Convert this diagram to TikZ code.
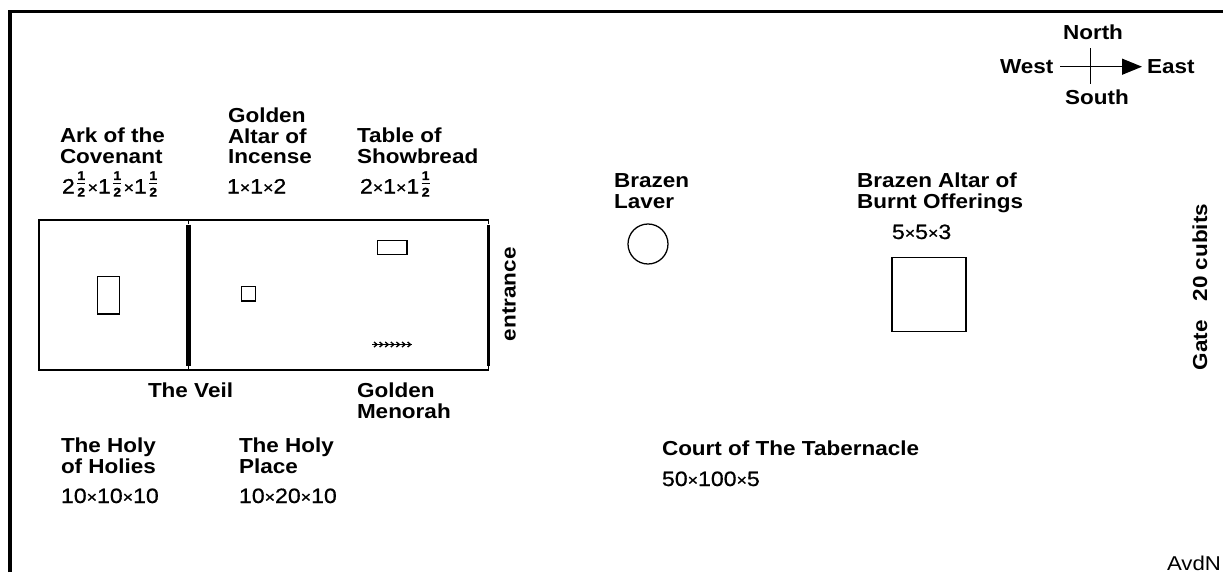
\documentclass[tikz,border=0pt]{standalone}
\usepackage{fontspec}
\setmainfont[FakeStretch=1.11]{Liberation Sans}
\usetikzlibrary{arrows.meta}
\newcommand{\hf}{\raisebox{-2.3pt}{\vbox{\offinterlineskip\fontsize{9.5}{9.5}\selectfont\bfseries\hbox to 9.6pt{\hss 1\hss}\kern2.6pt\hbox to 9.6pt{\hss\vrule width 6pt height .6pt\hss}\kern2.6pt\hbox to 9.6pt{\hss 2\hss}}}}
\newcommand{\tm}{{\fontsize{12}{12}\selectfont\raisebox{0.3pt}{×}}}
\tikzset{
  lab/.style={anchor=base west,inner sep=0pt,outer sep=0pt,font=\fontsize{15.2}{15.2}\selectfont\bfseries},
  dim/.style={anchor=base west,inner sep=0pt,outer sep=0pt,font=\fontsize{15.6}{15.6}\selectfont\addfontfeature{FakeBold=0.7}},
  sig/.style={anchor=base west,inner sep=0pt,outer sep=0pt,font=\fontsize{15}{15}\selectfont},
  frameline/.style={line width=2.7pt,line cap=butt},
  thin line/.style={line width=0.95pt},
  item/.style={draw,line width=0.95pt,fill=none},
}
\begin{document}
\begin{tikzpicture}[x=0.75pt,y=-0.75pt]
\useasboundingbox[fill=white] (0,0) rectangle (1223,572);
% outer frame
\draw[frameline] (10,572) -- (10,11.5) -- (1223,11.5);
% tabernacle
\draw[thin line] (188.5,224) -- (188.5,220) -- (39,220) -- (39,370) -- (188.5,370) -- (188.5,366);
\draw[thin line] (188.5,220) -- (488.5,220) -- (488.5,224);
\draw[thin line] (188.5,370) -- (488.5,370) -- (488.5,366);
\draw[line width=3.6pt] (188.5,224.5) -- (188.5,366);
\draw[line width=2.4pt] (488.5,225) -- (488.5,366);
\node[item,inner sep=0pt,minimum width=22pt*0.75,minimum height=37.5pt*0.75] (ark) at (108.7,295.3) {};
\node[item,inner sep=0pt,minimum width=14pt*0.75,minimum height=14.5pt*0.75] (altar) at (248.5,293.7) {};
\node[item,inner sep=0pt,minimum width=29.5pt*0.75,minimum height=14pt*0.75] (table) at (392.2,247.5) {};
\foreach \i in {0,...,6}{
  \draw[line width=1pt] (374+\i*5.6,342) -- (377+\i*5.6,344.5) -- (374+\i*5.6,347);
}
\draw[line width=0.75pt] (372,344.5) -- (412,344.5);
\node[item,circle,inner sep=0pt,minimum size=40pt*0.75] (laver) at (648,244) {};
\node[item,inner sep=0pt,minimum width=74pt*0.75,minimum height=73.5pt*0.75] (bronze) at (929,294.5) {};
% labels
\node[lab] (a1) at (60,142) {Ark of the};
\node[lab] (a2) at (60,163) {Covenant};
\node[dim] (a3) at (62,193.5) {2\hf\tm1\hf\tm1\hf};
\node[lab] (b1) at (228,122) {Golden};
\node[lab] (b2) at (228,143) {Altar of};
\node[lab] (b3) at (228,163) {Incense};
\node[dim] (b4) at (227,193.5) {1\tm1\tm2};
\node[lab] (c1) at (357,142) {Table of};
\node[lab] (c2) at (357,163) {Showbread};
\node[dim] (c3) at (360,193.5) {2\tm1\tm1\hf};
\node[lab] (d1) at (614,187) {Brazen};
\node[lab] (d2) at (614,208) {Laver};
\node[lab] (e1) at (857,187) {Brazen Altar of};
\node[lab] (e2) at (857,208) {Burnt Offerings};
\node[dim] (e3) at (892,239) {5\tm5\tm3};
\node[lab] (v) at (148,397) {The Veil};
\node[lab] (m1) at (357,397) {Golden};
\node[lab] (m2) at (357,418) {Menorah};
\node[lab] (h1) at (61,452) {The Holy};
\node[lab] (h2) at (61,473) {of Holies};
\node[dim] (h3) at (61,503) {10\tm10\tm10};
\node[lab] (p1) at (239,452) {The Holy};
\node[lab] (p2) at (239,473) {Place};
\node[dim] (p3) at (239,503) {10\tm20\tm10};
\node[lab] (t1) at (662,455) {Court of The Tabernacle};
\node[dim] (t2) at (662,486) {50\tm100\tm5};
\node[lab,rotate=90] (en) at (515.5,341) {entrance};
\node[lab,rotate=90] (gt) at (1207,370) {Gate\hspace{14pt}20 cubits};
\node[sig] (sg) at (1167,570) {AvdN};
% compass
\node[lab] (north) at (1063,39) {North};
\node[lab] (south) at (1065,104) {South};
\node[lab] (west) at (1000,73) {West};
\node[lab] (east) at (1147,73) {East};
\coordinate (wc) at (1060,66.7);
\coordinate (ec) at (1142,66.7);
\coordinate (nc) at (1090.7,48);
\coordinate (sc) at (1090.7,84);
\draw[thin line] (nc) -- (sc);
\draw[thin line,-{Triangle[length=15pt,width=12pt]}] (wc) -- (ec);
\end{tikzpicture}
\end{document}
